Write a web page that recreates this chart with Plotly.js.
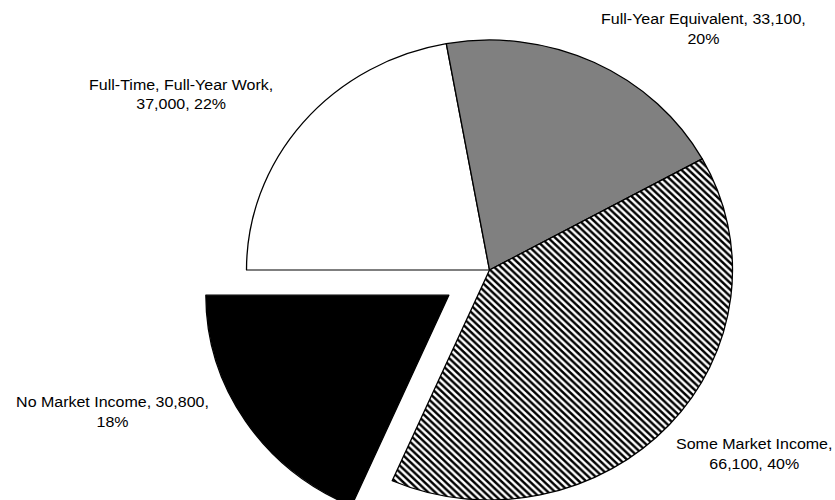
<!DOCTYPE html>
<html>
<head>
<meta charset="utf-8">
<script src="https://cdn.plot.ly/plotly-3.0.1.min.js"></script>
<style>
  html, body { margin: 0; padding: 0; background: #ffffff; overflow: hidden; }
  #wrap { position: relative; width: 835px; height: 500px; overflow: hidden; background: #ffffff; }
  #chart { position: absolute; left: 0; top: 0; width: 835px; transform-origin: 0 0; }
</style>
</head>
<body>
<div id="wrap"><div id="chart"></div></div>
<script>
// ---- data ----
var labels = ["Full-Time, Full-Year Work", "Full-Year Equivalent", "Some Market Income", "No Market Income"];
var values = [37000, 33100, 66100, 30800];
var sliceColors = ["#ffffff", "#808080", "#ffffff", "#000000"];
var slicePatterns = ["", "", "\\", ""];
var slicePull = [0, 0, 0, 0.2];
// where each label wraps: after the name (1) or after the value (2)
var labelBreak = [1, 2, 1, 2];
// label centre positions (viewport px)
var labelX = [181, 703, 754, 112];
var labelY = [95, 29, 454, 412];

// ---- layout geometry (viewport px) ----
var W = 835, H = 620, SHIFT = 20;
var CX = 489.5, CY = 270, RX = 243, RY = 230;
var S = RY / RX;                       // vertical squash of the original picture
var maxPull = Math.max.apply(null, slicePull);
var half = RX * (1 + maxPull);         // half size of pie domain box
var figCY = (CY + SHIFT) / S;

var el = document.getElementById('chart');
el.style.height = H + 'px';
el.style.top = (-SHIFT) + 'px';
el.style.transform = 'scaleY(' + S + ')';

var total = values.reduce(function (a, b) { return a + b; }, 0);
function fmt(v) { return v.toLocaleString('en-US'); }

var annotations = labels.map(function (lab, i) {
  var pct = Math.round(values[i] / total * 100) + '%';
  var parts = [lab, fmt(values[i]), pct];
  var txt = parts.slice(0, labelBreak[i]).join(', ') + ',<br>' + parts.slice(labelBreak[i]).join(', ');
  return {
    text: txt,
    xref: 'paper', yref: 'paper',
    x: labelX[i] / W,
    y: 1 - ((labelY[i] + SHIFT) / S) / H,
    xanchor: 'center', yanchor: 'middle',
    showarrow: false, align: 'center',
    font: { family: 'Liberation Sans, Arial, sans-serif', size: 16, color: '#000000' }
  };
});

var trace = {
  type: 'pie',
  labels: labels,
  values: values,
  sort: false,
  direction: 'clockwise',
  rotation: 270,
  pull: slicePull,
  textinfo: 'none',
  hoverinfo: 'skip',
  showlegend: false,
  marker: {
    colors: sliceColors,
    line: { color: '#000000', width: 1.3 },
    pattern: { shape: slicePatterns, fgcolor: '#000000', size: 5, solidity: 0.5 }
  },
  domain: {
    x: [(CX - half) / W, (CX + half) / W],
    y: [1 - (figCY + half) / H, 1 - (figCY - half) / H]
  }
};

var layout = {
  width: W, height: H,
  margin: { l: 0, r: 0, t: 0, b: 0, pad: 0 },
  paper_bgcolor: '#ffffff',
  plot_bgcolor: '#ffffff',
  showlegend: false,
  annotations: annotations
};

Plotly.newPlot('chart', [trace], layout, { staticPlot: true, displayModeBar: false });
</script>
</body>
</html>
